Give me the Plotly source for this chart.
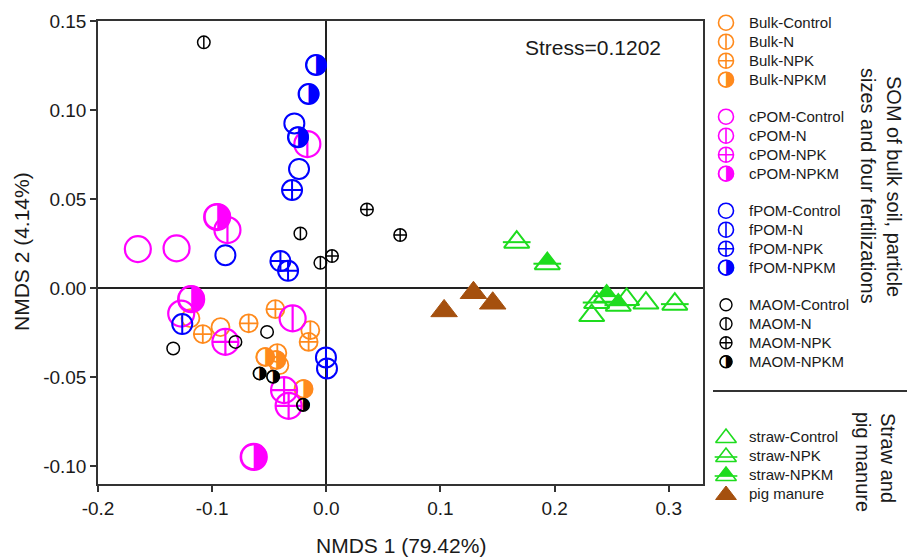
import plotly.graph_objects as go

# ---------------- data (NMDS coordinates) ----------------
bulk_control_x = [-0.0927, -0.1190, -0.0411]
bulk_control_y = [-0.0219, -0.0169, -0.0433]
bulk_n_x = [-0.0140, -0.0429]
bulk_n_y = [-0.0236, -0.0365]
bulk_npk_x = [-0.0446, -0.0680, -0.1082, -0.0155]
bulk_npk_y = [-0.0118, -0.0198, -0.0258, -0.0302]
bulk_npkm_x = [-0.0534, -0.0437, -0.0199]
bulk_npkm_y = [-0.0388, -0.0404, -0.0567]

cpom_control_x = [-0.1651, -0.1312, -0.1271]
cpom_control_y = [0.0219, 0.0223, -0.0143]
cpom_n_x = [-0.0866, -0.0166, -0.0295]
cpom_n_y = [0.0326, 0.0809, -0.0170]
cpom_npk_x = [-0.0884, -0.0370, -0.0330]
cpom_npk_y = [-0.0302, -0.0573, -0.0661]
cpom_npkm_x = [-0.0956, -0.1184, -0.0636]
cpom_npkm_y = [0.0399, -0.0062, -0.0948]

fpom_control_x = [-0.0280, -0.0239, -0.0884]
fpom_control_y = [0.0925, 0.0669, 0.0185]
fpom_n_x = [-0.1262, -0.0003, 0.0006]
fpom_n_y = [-0.0202, -0.0389, -0.0451]
fpom_npk_x = [-0.0300, -0.0402, -0.0335]
fpom_npk_y = [0.0551, 0.0152, 0.0097]
fpom_npkm_x = [-0.0090, -0.0155, -0.0248]
fpom_npkm_y = [0.1253, 0.1090, 0.0847]

maom_control_x = [-0.0519, -0.1341, -0.0796]
maom_control_y = [-0.0246, -0.0339, -0.0302]
maom_n_x = [-0.1073, -0.0227, -0.0052]
maom_n_y = [0.1380, 0.0307, 0.0142]
maom_npk_x = [0.0050, 0.0356, 0.0647]
maom_npk_y = [0.0180, 0.0442, 0.0298]
maom_npkm_x = [-0.0584, -0.0466, -0.0204]
maom_npkm_y = [-0.0479, -0.0498, -0.0657]

straw_control_x = [0.2325, 0.2631, 0.2800]
straw_control_y = [-0.0154, -0.0064, -0.0084]
straw_npk_x = [0.1668, 0.2368, 0.3053]
straw_npk_y = [0.0258, -0.0081, -0.0090]
straw_npkm_x = [0.1936, 0.2456, 0.2558]
straw_npkm_y = [0.0137, -0.0045, -0.0096]
pig_x = [0.1032, 0.1289, 0.1458]
pig_y = [-0.0128, -0.0026, -0.0085]

x_ticks = [-0.2, -0.1, 0.0, 0.1, 0.2, 0.3]
x_tick_labels = ["-0.2", "-0.1", "0.0", "0.1", "0.2", "0.3"]
y_ticks = [-0.10, -0.05, 0.0, 0.05, 0.10, 0.15]
y_tick_labels = ["-0.10", "-0.05", "0.00", "0.05", "0.10", "0.15"]

treatments = ["Control", "N", "NPK", "NPKM"]
fractions = ["Bulk", "cPOM", "fPOM", "MAOM"]
straw_labels = ["straw-Control", "straw-NPK", "straw-NPKM", "pig manure"]

# ---------------- style ----------------
W, H = 907, 557
PL, PR, PT, PB = 98, 703, 21, 484
XR = [-0.2, 0.33]
YR = [-0.110, 0.150]
ORANGE, MAGENTA, BLUE, BLACK = "#FF8A1C", "#FF00FF", "#0000FF", "#000000"
GREEN, BROWN = "#1EDC1E", "#A5500E"
FONT = "Liberation Sans, Arial, sans-serif"
TXT = "#1a1a1a"
GLYPH_RATIO = 0.80  # diameter of DejaVu circle glyph per em

fig = go.Figure()


def px_to_dy(p, axis_main=True):
    return p * (YR[1] - YR[0]) / (PB - PT) if axis_main else -p


def add_circles(x, y, color, kind, size, lw, xa="x", ya="y"):
    common = dict(mode="markers", hoverinfo="skip", showlegend=False, xaxis=xa, yaxis=ya)
    if kind == "NPKM":
        fig.add_trace(go.Scatter(
            x=x, y=y, mode="text", text=["\u25D1"] * len(x), textposition="middle center",
            textfont=dict(family="DejaVu Sans", size=(size + lw) / GLYPH_RATIO, color=color),
            hoverinfo="skip", showlegend=False, xaxis=xa, yaxis=ya))
    sym = "circle-cross-open" if kind == "NPK" else "circle-open"
    fig.add_trace(go.Scatter(x=x, y=y, marker=dict(symbol=sym, size=size, color=color,
                                                   line=dict(width=lw)), **common))
    if kind == "N":
        fig.add_trace(go.Scatter(x=x, y=y, marker=dict(symbol="line-ns-open", size=size / 1.4,
                                                       color=color, line=dict(width=lw)), **common))


def add_triangles(x, y, color, kind, size, lw, xa="x", ya="y", main=True):
    common = dict(mode="markers", hoverinfo="skip", showlegend=False, xaxis=xa, yaxis=ya)
    if kind == "pig":
        fig.add_trace(go.Scatter(x=x, y=y, marker=dict(symbol="triangle-up", size=size, color=color,
                                                       line=dict(width=1, color=color)), **common))
        return
    if kind == "NPKM":
        shift = px_to_dy(size / 6.0, main)
        fig.add_trace(go.Scatter(x=x, y=[v + shift for v in y],
                                 marker=dict(symbol="triangle-up", size=size * 2 / 3 + 1, color=color,
                                             line=dict(width=0)), **common))
    fig.add_trace(go.Scatter(x=x, y=y, marker=dict(symbol="triangle-up-open", size=size, color=color,
                                                   line=dict(width=lw)), **common))
    if kind in ("NPK", "NPKM"):
        fig.add_trace(go.Scatter(x=x, y=y, marker=dict(symbol="line-ew-open", size=size * 0.9,
                                                       color=color, line=dict(width=lw)), **common))


# ---------------- main scatter ----------------
series = [
    (ORANGE, 18, 1.8, [(bulk_control_x, bulk_control_y), (bulk_n_x, bulk_n_y),
                       (bulk_npk_x, bulk_npk_y), (bulk_npkm_x, bulk_npkm_y)]),
    (MAGENTA, 26, 2.2, [(cpom_control_x, cpom_control_y), (cpom_n_x, cpom_n_y),
                        (cpom_npk_x, cpom_npk_y), (cpom_npkm_x, cpom_npkm_y)]),
    (BLUE, 20, 2.0, [(fpom_control_x, fpom_control_y), (fpom_n_x, fpom_n_y),
                     (fpom_npk_x, fpom_npk_y), (fpom_npkm_x, fpom_npkm_y)]),
    (BLACK, 12.5, 1.5, [(maom_control_x, maom_control_y), (maom_n_x, maom_n_y),
                        (maom_npk_x, maom_npk_y), (maom_npkm_x, maom_npkm_y)]),
]
for color, size, lw, groups in series:
    for kind, (xs, ys) in zip(treatments, groups):
        add_circles(xs, ys, color, kind, size, lw)

add_triangles(straw_control_x, straw_control_y, GREEN, "Control", 22, 2)
add_triangles(straw_npk_x, straw_npk_y, GREEN, "NPK", 22, 2)
add_triangles(straw_npkm_x, straw_npkm_y, GREEN, "NPKM", 22, 2)
add_triangles(pig_x, pig_y, BROWN, "pig", 23, 1)

# ---------------- legend (drawn on a pixel-scaled overlay axis) ----------------
annotations = []
LEG_MX, LEG_TX = 726, 747
leg_colors = [ORANGE, MAGENTA, BLUE, BLACK]
leg_sizes = [15, 15, 15, 12]
for g, (frac, col, sz) in enumerate(zip(fractions, leg_colors, leg_sizes)):
    for i, tr in enumerate(treatments):
        py = 22.7 + g * 94 + i * 19
        add_circles([LEG_MX], [py], col, tr, sz, 1.6 if g < 3 else 1.4, xa="x2", ya="y2")
        annotations.append(dict(x=LEG_TX / W, y=1 - py / H, xref="paper", yref="paper",
                                text=f"{frac}-{tr}", showarrow=False, xanchor="left",
                                yanchor="middle", font=dict(family=FONT, size=15, color=TXT)))
for i, (lab, kind) in enumerate(zip(straw_labels, ["Control", "NPK", "NPKM", "pig"])):
    py = 438 + i * 19
    add_triangles([LEG_MX], [py], BROWN if kind == "pig" else GREEN, kind, 18, 1.6,
                  xa="x2", ya="y2", main=False)
    annotations.append(dict(x=LEG_TX / W, y=1 - (py - 2) / H, xref="paper", yref="paper",
                            text=lab, showarrow=False, xanchor="left", yanchor="middle",
                            font=dict(family=FONT, size=15, color=TXT)))

# group titles (rotated)
for txt, px, py in [("SOM of bulk soil, particle", 894, 186),
                    ("sizes and four fertilizations", 868, 186),
                    ("Straw and", 888, 458),
                    ("pig manure", 863, 462)]:
    annotations.append(dict(x=px / W, y=1 - py / H, xref="paper", yref="paper", text=txt,
                            showarrow=False, textangle=90, xanchor="center", yanchor="middle",
                            font=dict(family=FONT, size=20, color=TXT)))

# axis titles and stress
annotations.append(dict(x=401 / W, y=1 - 545 / H, xref="paper", yref="paper",
                        text="NMDS 1 (79.42%)", showarrow=False, xanchor="center",
                        yanchor="middle", font=dict(family=FONT, size=21, color=TXT)))
annotations.append(dict(x=21 / W, y=1 - 252 / H, xref="paper", yref="paper",
                        text="NMDS 2 (4.14%)", showarrow=False, textangle=-90,
                        xanchor="center", yanchor="middle",
                        font=dict(family=FONT, size=21, color=TXT)))
annotations.append(dict(x=593 / W, y=1 - 47 / H, xref="paper", yref="paper",
                        text="Stress=0.1202", showarrow=False, xanchor="center",
                        yanchor="middle", font=dict(family=FONT, size=21, color=TXT)))

axis_style = dict(showline=True, linecolor="#333333", linewidth=1.5, mirror=True,
                  ticks="outside", ticklen=6, tickwidth=1.5, tickcolor="#333333",
                  showgrid=False, zeroline=True, zerolinecolor="#222222", zerolinewidth=1.5,
                  tickfont=dict(family=FONT, size=19, color=TXT), fixedrange=True,
                  automargin=False)

fig.update_layout(
    width=W, height=H,
    margin=dict(l=0, r=0, t=0, b=0, pad=0, autoexpand=False),
    paper_bgcolor="white", plot_bgcolor="rgba(0,0,0,0)",
    showlegend=False,
    xaxis=dict(domain=[PL / W, PR / W], range=XR, tickvals=x_ticks, ticktext=x_tick_labels,
               **axis_style),
    yaxis=dict(domain=[1 - PB / H, 1 - PT / H], range=YR, tickvals=y_ticks,
               ticktext=y_tick_labels, **axis_style),
    xaxis2=dict(domain=[0, 1], range=[0, W], visible=False, anchor="y2", fixedrange=True,
                automargin=False),
    yaxis2=dict(domain=[0, 1], range=[H, 0], visible=False, anchor="x2", fixedrange=True,
                automargin=False),
    shapes=[dict(type="line", xref="paper", yref="paper", x0=713 / W, x1=1,
                 y0=1 - 391 / H, y1=1 - 391 / H, line=dict(color="#333333", width=2))],
    annotations=annotations,
)

fig.write_html("out.html", post_script="document.body.style.margin='0';")
